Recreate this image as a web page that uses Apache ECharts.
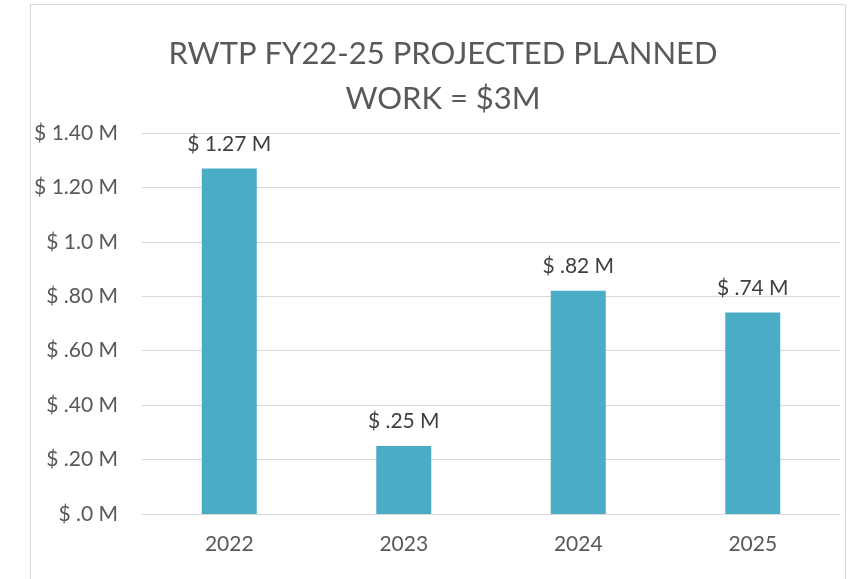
<!DOCTYPE html>
<html>
<head>
<meta charset="utf-8">
<script src="https://cdn.jsdelivr.net/npm/echarts@6/dist/echarts.min.js"></script>
<style>
  html, body { margin: 0; padding: 0; background: #fff; }
  #main { width: 850px; height: 579px; }
</style>
</head>
<body>
<div id="main"></div>
<script>
// data
var years = ['2022', '2023', '2024', '2025'];
var planned = [1.27, 0.25, 0.82, 0.74];
var barLabels = ['$ 1.27 M', '$ .25 M', '$ .82 M', '$ .74 M'];
var tickLabels = {
  '0': '$ .0 M', '0.2': '$ .20 M', '0.4': '$ .40 M', '0.6': '$ .60 M',
  '0.8': '$ .80 M', '1': '$ 1.0 M', '1.2': '$ 1.20 M', '1.4': '$ 1.40 M'
};

var font = 'Lato, "Open Sans", sans-serif';
var chart = echarts.init(document.getElementById('main'));

chart.setOption({
  animation: false,
  backgroundColor: '#fff',
  textStyle: { fontFamily: font },
  graphic: [{
    type: 'rect',
    shape: { x: 30.5, y: 4.5, width: 815, height: 600 },
    style: { fill: 'none', stroke: '#d9d9d9', lineWidth: 1 },
    silent: true
  }],
  title: {
    text: 'RWTP FY22-25 PROJECTED PLANNED\nWORK = $3M',
    left: 438,
    textAlign: 'center',
    top: 26,
    textStyle: {
      fontFamily: font,
      fontSize: 31,
      fontWeight: 'normal',
      color: '#595959',
      lineHeight: 45
    }
  },
  grid: { left: 142, right: 10, top: 133, bottom: 65 },
  xAxis: {
    type: 'category',
    data: years,
    axisTick: { show: false },
    axisLine: { lineStyle: { color: '#d9d9d9', width: 1 } },
    axisLabel: { color: '#595959', fontSize: 21, margin: 20, fontFamily: font }
  },
  yAxis: {
    type: 'value',
    min: 0,
    max: 1.4,
    interval: 0.2,
    axisLine: { show: false },
    axisTick: { show: false },
    splitLine: { lineStyle: { color: '#d9d9d9', width: 1 } },
    axisLabel: {
      color: '#595959',
      fontSize: 21,
      margin: 24,
      fontFamily: font,
      formatter: function (v) {
        return tickLabels[String(Math.round(v * 10) / 10)];
      }
    }
  },
  series: [{
    type: 'bar',
    data: planned,
    barWidth: 55,
    itemStyle: { color: '#4bacc6' },
    label: {
      show: true,
      position: 'top',
      distance: 14,
      color: '#404040',
      fontSize: 21,
      fontFamily: font,
      formatter: function (p) { return barLabels[p.dataIndex]; }
    }
  }]
});
</script>
</body>
</html>
